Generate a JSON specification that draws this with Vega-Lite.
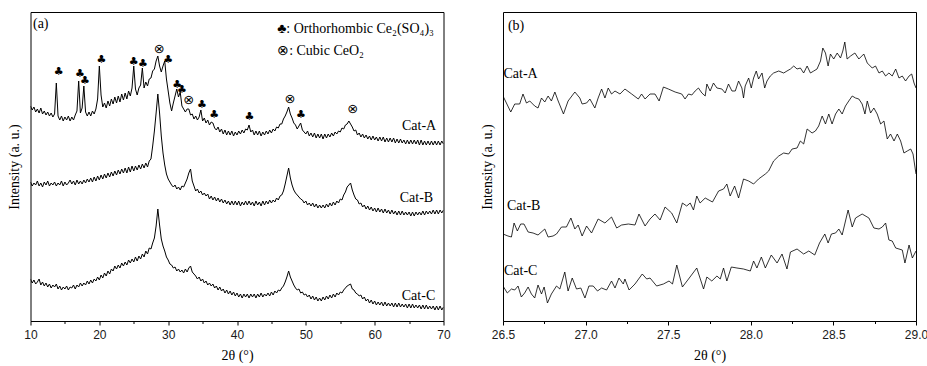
{
"$schema": "https://vega.github.io/schema/vega-lite/v6.json",
"padding": {"left": 6.5, "top": 11, "right": 0, "bottom": 0},
"background": "white",
"bounds": "flush",
"spacing": 59.5,
"config": {
 "view": {"stroke": "black", "strokeWidth": 1},
 "axis": {"grid": false, "domainColor": "black", "tickColor": "black", "labelFont": "Liberation Sans", "labelFontSize": 12, "labelColor": "#1a1a1a", "titleFont": "Liberation Serif", "titleFontSize": 14, "titleFontWeight": 400, "titleFontStyle": "normal", "titleColor": "black"},
 "text": {"font": "Liberation Serif", "fontSize": 14, "color": "black"}
},
"hconcat": [
{
 "width": 413, "height": 309,
 "encoding": {
  "x": {"field": "x", "type": "quantitative", "scale": {"domain": [10, 70], "nice": false, "zero": false},
   "axis": {"values": [10,15,20,25,30,35,40,45,50,55,60,65,70], "format": "d", "labelExpr": "datum.value % 10 === 0 ? datum.label : ''", "labelFlush": false, "labelOverlap": false, "tickSize": {"condition": {"test": "datum.value % 10 === 0", "value": 4}, "value": 2.5}, "labelPadding": 4, "title": "2θ (°)", "titleFont": "Liberation Serif", "titleFontSize": 14, "titleFontWeight": 400, "titlePadding": 8}},
  "y": {"field": "y", "type": "quantitative", "scale": {"domain": [0, 309], "nice": false, "zero": false},
   "axis": {"title": "Intensity (a. u.)", "titleFont": "Liberation Serif", "titleFontSize": 14, "titleFontWeight": 400, "labels": false, "ticks": false, "domain": false, "titlePadding": 9}}
 },
 "layer": [
  {
   "data": {"values": [
{"x":10,"a":215,"b":139,"c":42},{"x":10.25,"a":211,"b":135,"c":38},{"x":10.5,"a":214,"b":138,"c":41},{"x":10.75,"a":209,"b":136,"c":37},
{"x":11,"a":212,"b":140,"c":39},{"x":11.25,"a":208,"b":135,"c":42},{"x":11.5,"a":213,"b":138,"c":36},{"x":11.75,"a":207,"b":134,"c":39},
{"x":12,"a":210,"b":139,"c":35},{"x":12.25,"a":206,"b":136,"c":38},{"x":12.5,"a":209,"b":140,"c":34},{"x":12.75,"a":205,"b":135,"c":37},
{"x":13,"a":208,"b":138,"c":33},{"x":13.25,"a":204,"b":136,"c":36},{"x":13.5,"a":207,"b":139,"c":34},{"x":13.75,"a":238,"b":135,"c":37},
{"x":14,"a":205,"b":138,"c":32},{"x":14.25,"a":201,"b":136,"c":35},{"x":14.5,"a":205,"b":140,"c":31},{"x":14.75,"a":200,"b":135,"c":34},
{"x":15,"a":204,"b":139,"c":32},{"x":15.25,"a":201,"b":136,"c":35},{"x":15.5,"a":205,"b":138,"c":31},{"x":15.75,"a":200,"b":141,"c":34},
{"x":16,"a":204,"b":137,"c":33},{"x":16.25,"a":201,"b":140,"c":36},{"x":16.5,"a":206,"b":136,"c":32},{"x":16.75,"a":210,"b":141,"c":36},
{"x":17,"a":240,"b":137,"c":34},{"x":17.25,"a":208,"b":140,"c":38},{"x":17.5,"a":213,"b":137,"c":35},{"x":17.75,"a":235,"b":141,"c":38},
{"x":18,"a":209,"b":138,"c":36},{"x":18.25,"a":205,"b":142,"c":40},{"x":18.5,"a":209,"b":139,"c":37},{"x":18.75,"a":205,"b":143,"c":41},
{"x":19,"a":210,"b":139,"c":38},{"x":19.25,"a":207,"b":144,"c":42},{"x":19.5,"a":212,"b":140,"c":40},{"x":19.75,"a":222,"b":145,"c":44},
{"x":20,"a":255,"b":141,"c":41},{"x":20.25,"a":226,"b":146,"c":46},{"x":20.5,"a":214,"b":142,"c":43},{"x":20.75,"a":218,"b":147,"c":48},
{"x":21,"a":213,"b":143,"c":45},{"x":21.25,"a":220,"b":148,"c":50},{"x":21.5,"a":215,"b":144,"c":47},{"x":21.75,"a":222,"b":149,"c":52},
{"x":22,"a":217,"b":145,"c":50},{"x":22.25,"a":224,"b":150,"c":55},{"x":22.5,"a":218,"b":146,"c":52},{"x":22.75,"a":225,"b":151,"c":56},
{"x":23,"a":219,"b":147,"c":53},{"x":23.25,"a":227,"b":152,"c":58},{"x":23.5,"a":221,"b":148,"c":55},{"x":23.75,"a":228,"b":153,"c":59},
{"x":24,"a":222,"b":148,"c":56},{"x":24.25,"a":230,"b":154,"c":61},{"x":24.5,"a":225,"b":149,"c":58},{"x":24.75,"a":233,"b":155,"c":62},
{"x":25,"a":255,"b":150,"c":59},{"x":25.25,"a":232,"b":155,"c":64},{"x":25.5,"a":226,"b":151,"c":60},{"x":25.75,"a":233,"b":156,"c":65},
{"x":26,"a":236,"b":152,"c":62},{"x":26.25,"a":253,"b":157,"c":67},{"x":26.5,"a":233,"b":153,"c":64},{"x":26.75,"a":239,"b":158,"c":70},
{"x":27,"a":235,"b":154,"c":67},{"x":27.25,"a":242,"b":160,"c":73},{"x":27.5,"a":243,"b":162,"c":72},{"x":27.75,"a":250,"b":175,"c":78},
{"x":28,"a":252,"b":190,"c":83},{"x":28.25,"a":260,"b":208,"c":95},{"x":28.5,"a":265,"b":227,"c":112},{"x":28.75,"a":255,"b":208,"c":96},
{"x":29,"a":249,"b":185,"c":82},{"x":29.25,"a":255,"b":168,"c":75},{"x":29.5,"a":260,"b":156,"c":70},{"x":29.75,"a":242,"b":147,"c":64},
{"x":30,"a":230,"b":142,"c":61},{"x":30.25,"a":218,"b":139,"c":57},{"x":30.5,"a":210,"b":136,"c":56},{"x":30.75,"a":218,"b":134,"c":53},
{"x":31,"a":225,"b":136,"c":54},{"x":31.25,"a":232,"b":132,"c":50},{"x":31.5,"a":224,"b":134,"c":52},{"x":31.75,"a":229,"b":131,"c":49},
{"x":32,"a":215,"b":135,"c":51},{"x":32.25,"a":212,"b":134,"c":48},{"x":32.5,"a":209,"b":138,"c":52},{"x":32.75,"a":212,"b":142,"c":49},
{"x":33,"a":212,"b":148,"c":53},{"x":33.25,"a":206,"b":152,"c":55},{"x":33.5,"a":207,"b":140,"c":49},{"x":33.75,"a":202,"b":135,"c":47},
{"x":34,"a":205,"b":130,"c":45},{"x":34.25,"a":201,"b":132,"c":42},{"x":34.5,"a":204,"b":128,"c":44},{"x":34.75,"a":211,"b":130,"c":40},
{"x":35,"a":200,"b":126,"c":42},{"x":35.25,"a":203,"b":128,"c":38},{"x":35.5,"a":198,"b":125,"c":40},{"x":35.75,"a":201,"b":127,"c":36},
{"x":36,"a":196,"b":122,"c":38},{"x":36.25,"a":199,"b":125,"c":35},{"x":36.5,"a":198,"b":121,"c":37},{"x":36.75,"a":193,"b":124,"c":33},
{"x":37,"a":191,"b":120,"c":35},{"x":37.25,"a":194,"b":123,"c":31},{"x":37.5,"a":189,"b":119,"c":34},{"x":37.75,"a":192,"b":122,"c":30},
{"x":38,"a":187,"b":118,"c":32},{"x":38.25,"a":191,"b":121,"c":28},{"x":38.5,"a":186,"b":117,"c":31},{"x":38.75,"a":190,"b":120,"c":27},
{"x":39,"a":186,"b":116,"c":30},{"x":39.25,"a":190,"b":120,"c":26},{"x":39.5,"a":185,"b":116,"c":29},{"x":39.75,"a":189,"b":120,"c":25},
{"x":40,"a":186,"b":116,"c":28},{"x":40.25,"a":190,"b":120,"c":24},{"x":40.5,"a":187,"b":115,"c":27},{"x":40.75,"a":191,"b":119,"c":23},
{"x":41,"a":188,"b":116,"c":27},{"x":41.25,"a":192,"b":120,"c":24},{"x":41.5,"a":191,"b":116,"c":27},{"x":41.75,"a":196,"b":120,"c":23},
{"x":42,"a":189,"b":116,"c":27},{"x":42.25,"a":191,"b":119,"c":24},{"x":42.5,"a":186,"b":115,"c":27},{"x":42.75,"a":190,"b":120,"c":23},
{"x":43,"a":186,"b":116,"c":27},{"x":43.25,"a":190,"b":119,"c":24},{"x":43.5,"a":185,"b":115,"c":28},{"x":43.75,"a":189,"b":120,"c":24},
{"x":44,"a":186,"b":116,"c":27},{"x":44.25,"a":190,"b":120,"c":25},{"x":44.5,"a":187,"b":117,"c":28},{"x":44.75,"a":191,"b":121,"c":25},
{"x":45,"a":188,"b":118,"c":29},{"x":45.25,"a":192,"b":121,"c":26},{"x":45.5,"a":190,"b":119,"c":30},{"x":45.75,"a":194,"b":123,"c":28},
{"x":46,"a":193,"b":121,"c":31},{"x":46.25,"a":197,"b":125,"c":30},{"x":46.5,"a":197,"b":126,"c":33},{"x":46.75,"a":202,"b":130,"c":35},
{"x":47,"a":205,"b":137,"c":39},{"x":47.25,"a":209,"b":145,"c":44},{"x":47.5,"a":214,"b":153,"c":50},{"x":47.75,"a":207,"b":143,"c":44},
{"x":48,"a":203,"b":136,"c":40},{"x":48.25,"a":198,"b":131,"c":36},{"x":48.5,"a":196,"b":128,"c":33},{"x":48.75,"a":192,"b":126,"c":31},
{"x":49,"a":195,"b":124,"c":32},{"x":49.25,"a":198,"b":122,"c":28},{"x":49.5,"a":191,"b":121,"c":29},{"x":49.75,"a":189,"b":118,"c":26},
{"x":50,"a":187,"b":120,"c":27},{"x":50.25,"a":190,"b":116,"c":24},{"x":50.5,"a":185,"b":118,"c":26},{"x":50.75,"a":188,"b":115,"c":22},
{"x":51,"a":184,"b":118,"c":25},{"x":51.25,"a":188,"b":114,"c":21},{"x":51.5,"a":183,"b":117,"c":24},{"x":51.75,"a":187,"b":113,"c":20},
{"x":52,"a":183,"b":116,"c":23},{"x":52.25,"a":187,"b":113,"c":20},{"x":52.5,"a":182,"b":116,"c":24},{"x":52.75,"a":187,"b":113,"c":21},
{"x":53,"a":183,"b":117,"c":25},{"x":53.25,"a":187,"b":114,"c":22},{"x":53.5,"a":184,"b":118,"c":26},{"x":53.75,"a":188,"b":115,"c":23},
{"x":54,"a":185,"b":119,"c":27},{"x":54.25,"a":189,"b":116,"c":24},{"x":54.5,"a":187,"b":120,"c":28},{"x":54.75,"a":190,"b":118,"c":26},
{"x":55,"a":189,"b":122,"c":29},{"x":55.25,"a":193,"b":121,"c":28},{"x":55.5,"a":192,"b":126,"c":31},{"x":55.75,"a":196,"b":129,"c":33},
{"x":56,"a":197,"b":134,"c":35},{"x":56.25,"a":200,"b":136,"c":36},{"x":56.5,"a":197,"b":138,"c":37},{"x":56.75,"a":194,"b":131,"c":32},
{"x":57,"a":190,"b":126,"c":31},{"x":57.25,"a":191,"b":122,"c":28},{"x":57.5,"a":186,"b":121,"c":27},{"x":57.75,"a":188,"b":117,"c":25},
{"x":58,"a":184,"b":118,"c":26},{"x":58.25,"a":187,"b":114,"c":22},{"x":58.5,"a":183,"b":116,"c":24},{"x":58.75,"a":186,"b":112,"c":20},
{"x":59,"a":182,"b":115,"c":22},{"x":59.25,"a":185,"b":111,"c":18},{"x":59.5,"a":181,"b":114,"c":21},{"x":59.75,"a":185,"b":110,"c":17},
{"x":60,"a":181,"b":113,"c":20},{"x":60.25,"a":184,"b":109,"c":16},{"x":60.5,"a":180,"b":113,"c":19},{"x":60.75,"a":184,"b":109,"c":16},
{"x":61,"a":180,"b":112,"c":19},{"x":61.25,"a":184,"b":108,"c":15},{"x":61.5,"a":179,"b":112,"c":19},{"x":61.75,"a":183,"b":108,"c":15},
{"x":62,"a":179,"b":111,"c":18},{"x":62.25,"a":183,"b":107,"c":15},{"x":62.5,"a":179,"b":111,"c":18},{"x":62.75,"a":183,"b":107,"c":14},
{"x":63,"a":178,"b":110,"c":18},{"x":63.25,"a":182,"b":106,"c":14},{"x":63.5,"a":178,"b":110,"c":18},{"x":63.75,"a":182,"b":106,"c":14},
{"x":64,"a":178,"b":110,"c":17},{"x":64.25,"a":181,"b":106,"c":14},{"x":64.5,"a":177,"b":109,"c":17},{"x":64.75,"a":181,"b":106,"c":13},
{"x":65,"a":177,"b":109,"c":17},{"x":65.25,"a":181,"b":105,"c":13},{"x":65.5,"a":177,"b":109,"c":17},{"x":65.75,"a":181,"b":105,"c":13},
{"x":66,"a":177,"b":109,"c":16},{"x":66.25,"a":181,"b":106,"c":13},{"x":66.5,"a":176,"b":109,"c":16},{"x":66.75,"a":181,"b":106,"c":12},
{"x":67,"a":176,"b":110,"c":16},{"x":67.25,"a":180,"b":106,"c":12},{"x":67.5,"a":176,"b":110,"c":16},{"x":67.75,"a":180,"b":107,"c":12},
{"x":68,"a":176,"b":110,"c":15},{"x":68.25,"a":180,"b":107,"c":12},{"x":68.5,"a":176,"b":111,"c":15},{"x":68.75,"a":180,"b":107,"c":11},
{"x":69,"a":176,"b":111,"c":15},{"x":69.25,"a":180,"b":107,"c":11},{"x":69.5,"a":176,"b":111,"c":15},{"x":69.75,"a":180,"b":108,"c":11},
{"x":70,"a":177,"b":111,"c":14}
   ]},
   "transform": [{"fold": ["a", "b", "c"], "as": ["s", "y"]}],
   "mark": {"type": "line", "color": "black", "strokeWidth": 1, "clip": true},
   "encoding": {"detail": {"field": "s"}}
  },
  {
   "data": {"values": [
{"x":14.1,"y":249,"t":"♣"},{"x":17.2,"y":247,"t":"♣"},{"x":17.9,"y":240,"t":"♣"},{"x":20.3,"y":261,"t":"♣"},
{"x":25.0,"y":259,"t":"♣"},{"x":26.35,"y":257,"t":"♣"},{"x":30.0,"y":261,"t":"♣"},
{"x":31.3,"y":236,"t":"♣"},{"x":32.0,"y":231,"t":"♣"},{"x":34.9,"y":216,"t":"♣"},
{"x":36.7,"y":206,"t":"♣"},{"x":41.8,"y":204,"t":"♣"},{"x":49.3,"y":206,"t":"♣"}
   ]},
   "mark": {"type": "text", "font": "DejaVu Sans", "fontSize": 11, "align": "center", "baseline": "middle"},
   "encoding": {"text": {"field": "t"}}
  },
  {
   "data": {"values": [
{"x":28.7,"y":272,"t":"⊗"},{"x":33.0,"y":221,"t":"⊗"},{"x":47.7,"y":222,"t":"⊗"},{"x":56.8,"y":212,"t":"⊗"}
   ]},
   "mark": {"type": "text", "font": "DejaVu Sans", "fontSize": 13, "align": "center", "baseline": "middle"},
   "encoding": {"text": {"field": "t"}}
  },
  {
   "data": {"values": [
{"x":10.36,"y":297,"t":"(a)"},
{"x":45.83,"y":292,"t":"♣: Orthorhombic Ce₂(SO₄)₃"},
{"x":45.83,"y":270,"t":"⊗: Cubic CeO₂"}
   ]},
   "mark": {"type": "text", "align": "left", "baseline": "middle"},
   "encoding": {"text": {"field": "t"}}
  },
  {
   "data": {"values": [
{"x":68.94,"y":195,"t":"Cat-A"},
{"x":68.5,"y":123,"t":"Cat-B"},
{"x":68.8,"y":25.5,"t":"Cat-C"}
   ]},
   "mark": {"type": "text", "align": "right", "baseline": "middle"},
   "encoding": {"text": {"field": "t"}}
  }
 ]
},
{
 "width": 413, "height": 309,
 "encoding": {
  "x": {"field": "x", "type": "quantitative", "scale": {"domain": [26.5, 29.0], "nice": false, "zero": false},
   "axis": {"values": [26.5,26.75,27,27.25,27.5,27.75,28,28.25,28.5,28.75,29], "labelExpr": "abs(datum.value*2 - round(datum.value*2)) < 0.001 ? format(datum.value, '.1f') : ''", "labelFlush": false, "labelOverlap": false, "tickSize": {"condition": {"test": "abs(datum.value*2 - round(datum.value*2)) < 0.001", "value": 4}, "value": 2.5}, "labelPadding": 4, "title": "2θ (°)", "titleFont": "Liberation Serif", "titleFontSize": 14, "titleFontWeight": 400, "titlePadding": 8}},
  "y": {"field": "y", "type": "quantitative", "scale": {"domain": [0, 309], "nice": false, "zero": false},
   "axis": {"title": "Intensity (a. u.)", "titleFont": "Liberation Serif", "titleFontSize": 14, "titleFontWeight": 400, "labels": false, "ticks": false, "domain": false, "titlePadding": 9}}
 },
 "layer": [
  {
   "data": {"values": [
{"s":"A","x":26.5,"y":225},{"s":"A","x":26.547,"y":209},{"s":"A","x":26.571,"y":217},{"s":"A","x":26.601,"y":217},{"s":"A","x":26.621,"y":227},
{"s":"A","x":26.642,"y":218},{"s":"A","x":26.662,"y":220},{"s":"A","x":26.692,"y":215},{"s":"A","x":26.712,"y":213},{"s":"A","x":26.733,"y":223},
{"s":"A","x":26.753,"y":219},{"s":"A","x":26.773,"y":225},{"s":"A","x":26.793,"y":220},{"s":"A","x":26.814,"y":229},{"s":"A","x":26.834,"y":220},
{"s":"A","x":26.866,"y":207},{"s":"A","x":26.894,"y":220},{"s":"A","x":26.935,"y":229},{"s":"A","x":26.965,"y":223},{"s":"A","x":26.979,"y":217},
{"s":"A","x":27.006,"y":218},{"s":"A","x":27.026,"y":222},{"s":"A","x":27.056,"y":213},{"s":"A","x":27.076,"y":223},{"s":"A","x":27.097,"y":232},
{"s":"A","x":27.117,"y":223},{"s":"A","x":27.137,"y":233},{"s":"A","x":27.157,"y":227},{"s":"A","x":27.178,"y":230},{"s":"A","x":27.208,"y":227},
{"s":"A","x":27.238,"y":232},{"s":"A","x":27.279,"y":227},{"s":"A","x":27.319,"y":222},{"s":"A","x":27.339,"y":227},{"s":"A","x":27.36,"y":222},
{"s":"A","x":27.39,"y":227},{"s":"A","x":27.42,"y":227},{"s":"A","x":27.445,"y":220},{"s":"A","x":27.471,"y":234},{"s":"A","x":27.501,"y":232},
{"s":"A","x":27.542,"y":229},{"s":"A","x":27.582,"y":227},{"s":"A","x":27.602,"y":222},{"s":"A","x":27.623,"y":227},{"s":"A","x":27.643,"y":226},
{"s":"A","x":27.663,"y":230},{"s":"A","x":27.683,"y":233},{"s":"A","x":27.704,"y":228},{"s":"A","x":27.724,"y":225},{"s":"A","x":27.734,"y":237},
{"s":"A","x":27.754,"y":230},{"s":"A","x":27.774,"y":238},{"s":"A","x":27.795,"y":233},{"s":"A","x":27.825,"y":232},{"s":"A","x":27.845,"y":228},
{"s":"A","x":27.865,"y":237},{"s":"A","x":27.886,"y":230},{"s":"A","x":27.906,"y":230},{"s":"A","x":27.926,"y":240},{"s":"A","x":27.946,"y":233},
{"s":"A","x":27.956,"y":223},{"s":"A","x":27.966,"y":235},{"s":"A","x":27.987,"y":243},{"s":"A","x":28.003,"y":233},{"s":"A","x":28.017,"y":243},
{"s":"A","x":28.033,"y":250},{"s":"A","x":28.047,"y":242},{"s":"A","x":28.068,"y":248},{"s":"A","x":28.084,"y":233},{"s":"A","x":28.098,"y":240},
{"s":"A","x":28.118,"y":245},{"s":"A","x":28.138,"y":248},{"s":"A","x":28.169,"y":250},{"s":"A","x":28.199,"y":248},{"s":"A","x":28.219,"y":250},
{"s":"A","x":28.24,"y":252},{"s":"A","x":28.26,"y":255},{"s":"A","x":28.28,"y":252},{"s":"A","x":28.3,"y":253},{"s":"A","x":28.32,"y":248},
{"s":"A","x":28.341,"y":255},{"s":"A","x":28.361,"y":248},{"s":"A","x":28.381,"y":250},{"s":"A","x":28.401,"y":252},{"s":"A","x":28.422,"y":260},
{"s":"A","x":28.436,"y":273},{"s":"A","x":28.452,"y":268},{"s":"A","x":28.468,"y":255},{"s":"A","x":28.482,"y":267},{"s":"A","x":28.502,"y":262},
{"s":"A","x":28.523,"y":268},{"s":"A","x":28.543,"y":263},{"s":"A","x":28.557,"y":270},{"s":"A","x":28.569,"y":279},{"s":"A","x":28.583,"y":262},
{"s":"A","x":28.604,"y":265},{"s":"A","x":28.63,"y":268},{"s":"A","x":28.654,"y":262},{"s":"A","x":28.684,"y":267},{"s":"A","x":28.705,"y":258},
{"s":"A","x":28.735,"y":253},{"s":"A","x":28.755,"y":255},{"s":"A","x":28.776,"y":248},{"s":"A","x":28.796,"y":250},{"s":"A","x":28.816,"y":245},
{"s":"A","x":28.836,"y":248},{"s":"A","x":28.856,"y":245},{"s":"A","x":28.877,"y":252},{"s":"A","x":28.897,"y":243},{"s":"A","x":28.917,"y":245},
{"s":"A","x":28.937,"y":240},{"s":"A","x":28.958,"y":245},{"s":"A","x":28.974,"y":247},{"s":"A","x":28.988,"y":238},{"s":"A","x":29.0,"y":233},
{"s":"B","x":26.5,"y":87},{"s":"B","x":26.53,"y":85},{"s":"B","x":26.551,"y":84},{"s":"B","x":26.567,"y":98},{"s":"B","x":26.587,"y":90},
{"s":"B","x":26.607,"y":97},{"s":"B","x":26.627,"y":97},{"s":"B","x":26.652,"y":89},{"s":"B","x":26.682,"y":88},{"s":"B","x":26.712,"y":86},
{"s":"B","x":26.753,"y":92},{"s":"B","x":26.773,"y":84},{"s":"B","x":26.803,"y":85},{"s":"B","x":26.824,"y":87},{"s":"B","x":26.854,"y":94},
{"s":"B","x":26.884,"y":94},{"s":"B","x":26.911,"y":103},{"s":"B","x":26.935,"y":92},{"s":"B","x":26.955,"y":96},{"s":"B","x":26.979,"y":85},
{"s":"B","x":27.006,"y":95},{"s":"B","x":27.036,"y":88},{"s":"B","x":27.076,"y":102},{"s":"B","x":27.117,"y":98},{"s":"B","x":27.157,"y":104},
{"s":"B","x":27.188,"y":93},{"s":"B","x":27.218,"y":96},{"s":"B","x":27.259,"y":97},{"s":"B","x":27.299,"y":96},{"s":"B","x":27.323,"y":107},
{"s":"B","x":27.36,"y":95},{"s":"B","x":27.39,"y":102},{"s":"B","x":27.42,"y":107},{"s":"B","x":27.451,"y":101},{"s":"B","x":27.481,"y":114},
{"s":"B","x":27.521,"y":108},{"s":"B","x":27.552,"y":98},{"s":"B","x":27.586,"y":118},{"s":"B","x":27.612,"y":115},{"s":"B","x":27.633,"y":118},
{"s":"B","x":27.653,"y":111},{"s":"B","x":27.673,"y":125},{"s":"B","x":27.693,"y":118},{"s":"B","x":27.724,"y":123},{"s":"B","x":27.768,"y":119},
{"s":"B","x":27.805,"y":130},{"s":"B","x":27.835,"y":132},{"s":"B","x":27.855,"y":137},{"s":"B","x":27.875,"y":125},{"s":"B","x":27.902,"y":135},
{"s":"B","x":27.926,"y":123},{"s":"B","x":27.956,"y":142},{"s":"B","x":27.987,"y":140},{"s":"B","x":28.017,"y":137},{"s":"B","x":28.047,"y":142},
{"s":"B","x":28.088,"y":147},{"s":"B","x":28.108,"y":150},{"s":"B","x":28.138,"y":160},{"s":"B","x":28.169,"y":165},{"s":"B","x":28.199,"y":168},
{"s":"B","x":28.229,"y":167},{"s":"B","x":28.25,"y":172},{"s":"B","x":28.28,"y":173},{"s":"B","x":28.3,"y":180},{"s":"B","x":28.32,"y":177},
{"s":"B","x":28.341,"y":192},{"s":"B","x":28.371,"y":188},{"s":"B","x":28.391,"y":190},{"s":"B","x":28.411,"y":195},{"s":"B","x":28.432,"y":205},
{"s":"B","x":28.452,"y":197},{"s":"B","x":28.472,"y":207},{"s":"B","x":28.492,"y":197},{"s":"B","x":28.513,"y":207},{"s":"B","x":28.533,"y":212},
{"s":"B","x":28.553,"y":207},{"s":"B","x":28.573,"y":215},{"s":"B","x":28.593,"y":220},{"s":"B","x":28.614,"y":225},{"s":"B","x":28.634,"y":223},
{"s":"B","x":28.654,"y":222},{"s":"B","x":28.674,"y":217},{"s":"B","x":28.691,"y":207},{"s":"B","x":28.705,"y":220},{"s":"B","x":28.725,"y":208},
{"s":"B","x":28.745,"y":213},{"s":"B","x":28.765,"y":207},{"s":"B","x":28.786,"y":197},{"s":"B","x":28.806,"y":200},{"s":"B","x":28.826,"y":182},
{"s":"B","x":28.846,"y":187},{"s":"B","x":28.867,"y":180},{"s":"B","x":28.887,"y":187},{"s":"B","x":28.907,"y":180},{"s":"B","x":28.927,"y":168},
{"s":"B","x":28.947,"y":170},{"s":"B","x":28.968,"y":172},{"s":"B","x":28.982,"y":167},{"s":"B","x":29.0,"y":147},
{"s":"C","x":26.5,"y":35},{"s":"C","x":26.526,"y":28},{"s":"C","x":26.551,"y":32},{"s":"C","x":26.571,"y":31},{"s":"C","x":26.591,"y":35},
{"s":"C","x":26.611,"y":24},{"s":"C","x":26.631,"y":28},{"s":"C","x":26.652,"y":34},{"s":"C","x":26.672,"y":27},{"s":"C","x":26.692,"y":23},
{"s":"C","x":26.712,"y":36},{"s":"C","x":26.733,"y":27},{"s":"C","x":26.749,"y":34},{"s":"C","x":26.769,"y":18},{"s":"C","x":26.793,"y":27},
{"s":"C","x":26.824,"y":35},{"s":"C","x":26.844,"y":32},{"s":"C","x":26.874,"y":49},{"s":"C","x":26.894,"y":30},{"s":"C","x":26.919,"y":43},
{"s":"C","x":26.945,"y":32},{"s":"C","x":26.971,"y":33},{"s":"C","x":26.996,"y":23},{"s":"C","x":27.02,"y":35},{"s":"C","x":27.046,"y":35},
{"s":"C","x":27.072,"y":30},{"s":"C","x":27.097,"y":33},{"s":"C","x":27.127,"y":31},{"s":"C","x":27.157,"y":40},{"s":"C","x":27.178,"y":33},
{"s":"C","x":27.202,"y":43},{"s":"C","x":27.228,"y":37},{"s":"C","x":27.238,"y":42},{"s":"C","x":27.263,"y":31},{"s":"C","x":27.299,"y":37},
{"s":"C","x":27.343,"y":47},{"s":"C","x":27.37,"y":42},{"s":"C","x":27.39,"y":43},{"s":"C","x":27.43,"y":35},{"s":"C","x":27.471,"y":37},
{"s":"C","x":27.505,"y":40},{"s":"C","x":27.526,"y":37},{"s":"C","x":27.552,"y":56},{"s":"C","x":27.586,"y":34},{"s":"C","x":27.623,"y":42},
{"s":"C","x":27.673,"y":53},{"s":"C","x":27.714,"y":32},{"s":"C","x":27.734,"y":44},{"s":"C","x":27.764,"y":40},{"s":"C","x":27.795,"y":45},
{"s":"C","x":27.815,"y":42},{"s":"C","x":27.835,"y":53},{"s":"C","x":27.855,"y":40},{"s":"C","x":27.882,"y":54},{"s":"C","x":27.916,"y":53},
{"s":"C","x":27.956,"y":52},{"s":"C","x":27.997,"y":50},{"s":"C","x":28.017,"y":60},{"s":"C","x":28.037,"y":53},{"s":"C","x":28.064,"y":64},
{"s":"C","x":28.088,"y":53},{"s":"C","x":28.124,"y":66},{"s":"C","x":28.159,"y":58},{"s":"C","x":28.189,"y":67},{"s":"C","x":28.219,"y":52},
{"s":"C","x":28.24,"y":69},{"s":"C","x":28.28,"y":72},{"s":"C","x":28.32,"y":67},{"s":"C","x":28.351,"y":70},{"s":"C","x":28.387,"y":66},
{"s":"C","x":28.416,"y":78},{"s":"C","x":28.448,"y":87},{"s":"C","x":28.468,"y":78},{"s":"C","x":28.488,"y":87},{"s":"C","x":28.513,"y":88},
{"s":"C","x":28.533,"y":92},{"s":"C","x":28.553,"y":86},{"s":"C","x":28.589,"y":111},{"s":"C","x":28.614,"y":94},{"s":"C","x":28.634,"y":103},
{"s":"C","x":28.674,"y":107},{"s":"C","x":28.715,"y":103},{"s":"C","x":28.745,"y":93},{"s":"C","x":28.776,"y":92},{"s":"C","x":28.796,"y":94},
{"s":"C","x":28.816,"y":98},{"s":"C","x":28.836,"y":81},{"s":"C","x":28.856,"y":80},{"s":"C","x":28.877,"y":73},{"s":"C","x":28.917,"y":71},
{"s":"C","x":28.933,"y":58},{"s":"C","x":28.958,"y":76},{"s":"C","x":28.978,"y":63},{"s":"C","x":29.0,"y":70}
   ]},
   "mark": {"type": "line", "color": "black", "strokeWidth": 0.8, "clip": true},
   "encoding": {"detail": {"field": "s"}}
  },
  {
   "data": {"values": [
{"x":26.53,"y":295,"t":"(b)"},
{"x":26.503,"y":247,"t":"Cat-A"},
{"x":26.524,"y":115,"t":"Cat-B"},
{"x":26.506,"y":50,"t":"Cat-C"}
   ]},
   "mark": {"type": "text", "align": "left", "baseline": "middle"},
   "encoding": {"text": {"field": "t"}}
  }
 ]
}
]
}
